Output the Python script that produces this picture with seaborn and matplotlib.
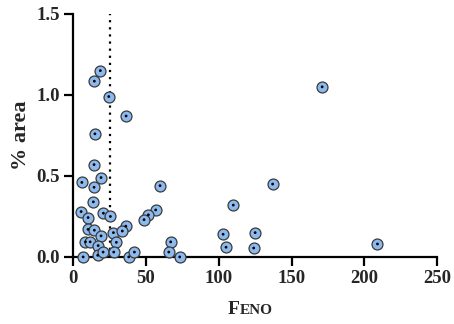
import pandas as pd
import seaborn as sns
import matplotlib
matplotlib.use("Agg")
import matplotlib.pyplot as plt
from matplotlib.offsetbox import TextArea, HPacker, AnchoredOffsetbox

# FENO values and % area
feno = [18.7, 14.6, 24.5, 36.4, 15.0, 14.4, 6.0, 19.2, 14.4, 59.7,
        13.9, 5.5, 10.3, 20.8, 25.6, 56.7, 51.7, 48.7, 10.3, 14.6,
        19.2, 27.7, 36.2, 33.8, 8.5, 11.7, 17.2, 29.7, 67.0, 6.9,
        16.9, 20.6, 27.9, 38.2, 42.1, 65.7, 73.2, 171.0, 209.0, 137.0,
        110.0, 125.0, 124.0, 103.0, 105.0]
area = [1.15, 1.085, 0.99, 0.87, 0.76, 0.57, 0.46, 0.49, 0.43, 0.44,
        0.34, 0.28, 0.243, 0.27, 0.25, 0.29, 0.26, 0.23, 0.17, 0.165,
        0.13, 0.15, 0.19, 0.16, 0.093, 0.093, 0.07, 0.09, 0.093, 0.0,
        0.01, 0.03, 0.03, 0.0, 0.03, 0.03, 0.0, 1.05, 0.08, 0.45,
        0.32, 0.15, 0.055, 0.14, 0.06]
cutoff = 25
x_ticks = [0, 50, 100, 150, 200, 250]
y_ticks = [0.0, 0.5, 1.0, 1.5]

df = pd.DataFrame({"feno": feno, "area": area})

sns.set_style("ticks")
plt.rcParams["font.family"] = ["Liberation Serif", "DejaVu Serif"]
plt.rcParams["font.weight"] = "bold"

fig = plt.figure(figsize=(4.54, 3.24), dpi=100)
ax = fig.add_axes([0.161, 0.207, 0.802, 0.75])

ax.axvline(cutoff, ymin=0, ymax=1, color="black", ls=(0, (1, 2.2)), lw=1.6, zorder=1)

sns.scatterplot(data=df, x="feno", y="area", ax=ax, s=62, color="#8cb9ee",
                edgecolor="#3a3a3a", linewidth=0.9, zorder=3, clip_on=False)
sns.scatterplot(data=df, x="feno", y="area", ax=ax, s=4, color="black",
                edgecolor="none", zorder=4, clip_on=False)

ax.set_xlim(0, 250)
ax.set_ylim(0, 1.5)
ax.set_xticks(x_ticks)
ax.set_xticklabels([str(t) for t in x_ticks])
ax.set_yticks(y_ticks)
ax.set_yticklabels([f"{t:.1f}" for t in y_ticks])
ax.tick_params(axis="both", length=6.5, width=1.6, labelsize=13.5, pad=3, color="black")
for lab in ax.get_xticklabels() + ax.get_yticklabels():
    lab.set_fontweight("bold")
for side in ["left", "bottom"]:
    ax.spines[side].set_linewidth(1.6)
    ax.spines[side].set_color("black")
sns.despine(ax=ax)

ax.set_xlabel("")
ax.set_ylabel("% area", fontsize=16, fontweight="bold", labelpad=4)

# small-caps style x label
parts = [TextArea("F", textprops=dict(size=14, weight="bold", family="Liberation Serif")),
         TextArea("ENO", textprops=dict(size=11, weight="bold", family="Liberation Serif"))]
box = HPacker(children=parts, align="baseline", pad=0, sep=0.5)
anch = AnchoredOffsetbox(loc="upper center", child=box, frameon=False, pad=0,
                         bbox_to_anchor=(0.487, -0.18), bbox_transform=ax.transAxes,
                         borderpad=0)
ax.add_artist(anch)

fig.savefig("out.png", dpi=100)
